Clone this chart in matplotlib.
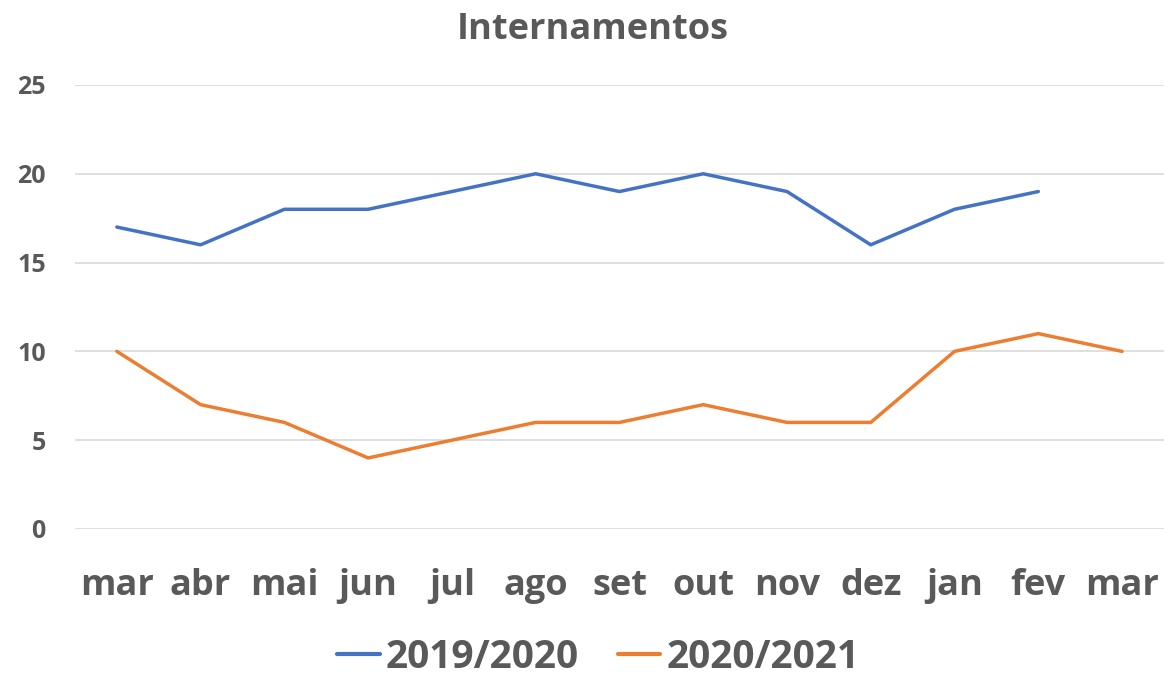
import matplotlib
matplotlib.use("Agg")
import matplotlib.pyplot as plt
import numpy as np

months = ["mar", "abr", "mai", "jun", "jul", "ago", "set", "out", "nov", "dez", "jan", "fev", "mar"]
s2019 = [17, 16, 18, 18, 19, 20, 19, 20, 19, 16, 18, 19, np.nan]
s2020 = [10, 7, 6, 4, 5, 6, 6, 7, 6, 6, 10, 11, 10]
yticks = [0, 5, 10, 15, 20, 25]

plt.rcParams['font.family'] = ['Open Sans', 'DejaVu Sans']
txt = '#595959'

fig = plt.figure(figsize=(11.75, 6.76), dpi=100)
ax = fig.add_axes([0.0638, 0.2175, 0.9268, 0.6568])
x = np.arange(len(months))
ax.plot(x, s2019, color='#4472C4', lw=2.5, label='2019/2020', solid_capstyle='round')
ax.plot(x, s2020, color='#ED7D31', lw=2.5, label='2020/2021', solid_capstyle='round')
ax.set_xlim(-0.5, len(months) - 0.5)
ax.set_ylim(0, 25)
ax.set_yticks(yticks)
ax.set_xticks(x)
ax.set_xticklabels(months, fontsize=26, fontweight='bold', color=txt)
ax.set_yticklabels([str(v) for v in yticks], fontsize=18, fontweight='bold', color=txt)
ax.grid(axis='y', color='#D9D9D9', lw=1.2)
ax.set_axisbelow(True)
for s in ax.spines.values():
    s.set_visible(False)
ax.tick_params(length=0)
ax.tick_params(axis='x', pad=28)
ax.tick_params(axis='y', pad=21)
fig.text(0.5045, 0.955, 'Internamentos', ha='center', va='center', fontsize=26, fontweight='bold', color=txt)
leg = fig.legend(loc='center', bbox_to_anchor=(0.509, 0.028), ncol=2, frameon=False,
                 prop={'size': 28, 'weight': 'bold'}, handlelength=1.1, columnspacing=1.0, handletextpad=0.15)
for t in leg.get_texts():
    t.set_color(txt)
for h in leg.legend_handles:
    h.set_linewidth(3)
fig.savefig('out.png', dpi=100)
